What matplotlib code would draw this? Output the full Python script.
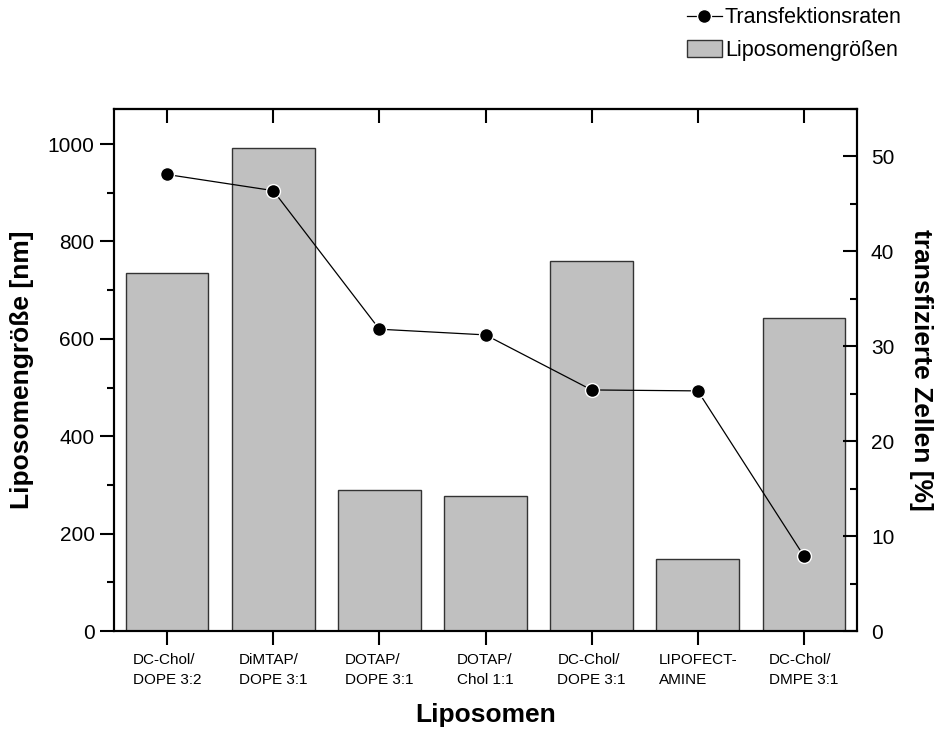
import numpy as np
import matplotlib
matplotlib.use("Agg")
from matplotlib import pyplot as plt
from matplotlib.ticker import MultipleLocator

plt.rcParams['font.family'] = ['Liberation Sans', 'DejaVu Sans']

kategorien = ["DC-Chol/\nDOPE 3:2", "DiMTAP/\nDOPE 3:1", "DOTAP/\nDOPE 3:1",
              "DOTAP/\nChol 1:1", "DC-Chol/\nDOPE 3:1", "LIPOFECT-\nAMINE",
              "DC-Chol/\nDMPE 3:1"]
groessen = [735, 992, 290, 277, 760, 147, 643]
transfektion = [48.1, 46.4, 31.8, 31.2, 25.4, 25.3, 7.9]

x = np.arange(len(kategorien))

fig = plt.figure(figsize=(9.4, 7.37), dpi=100)
ax1 = fig.add_axes([0.1213, 0.1438, 0.7904, 0.7083])
ax2 = ax1.twinx()

bars = ax1.bar(x, groessen, width=0.78, color='#c0c0c0', edgecolor='#333333',
               linewidth=1.0, label='Liposomengrößen')
line, = ax2.plot(x, transfektion, color='black', linewidth=0.9, marker='o',
                 markersize=10, markeredgecolor='white', markeredgewidth=1.0,
                 markerfacecolor='black', label='Transfektionsraten')

ax1.set_xlim(-0.5, 6.5)
ax1.set_ylim(0, 1072)
ax2.set_ylim(0, 55)

ax1.set_xticks(x)
ax1.set_xticklabels(kategorien, fontsize=11, multialignment='left', linespacing=1.5)
ax1.yaxis.set_major_locator(MultipleLocator(200))
ax1.yaxis.set_minor_locator(MultipleLocator(100))
ax2.yaxis.set_major_locator(MultipleLocator(10))
ax2.yaxis.set_minor_locator(MultipleLocator(5))

ax1.tick_params(axis='x', direction='out', length=10, width=1.5, pad=6)
ax1.tick_params(axis='y', which='major', direction='out', length=10, width=1.5,
                labelsize=15, pad=4)
ax1.tick_params(axis='y', which='minor', direction='out', length=5, width=1.5)
ax2.tick_params(axis='y', which='major', direction='in', length=10, width=1.5,
                labelsize=15, pad=10)
ax2.tick_params(axis='y', which='minor', direction='in', length=5, width=1.5)

top = ax1.secondary_xaxis('top')
top.set_xticks(x)
top.set_xticklabels([])
top.tick_params(direction='in', length=10, width=1.5)

for a in (ax1, ax2, top):
    for s in a.spines.values():
        s.set_linewidth(1.5)

ax1.set_ylabel('Liposomengröße [nm]', fontsize=19, fontweight='bold', labelpad=10)
ax2.set_ylabel('transfizierte Zellen [%]', fontsize=19, fontweight='bold',
               rotation=270, labelpad=28)
ax1.set_xlabel('Liposomen', fontsize=19, fontweight='bold', labelpad=12)

fig.legend([line, bars], ['Transfektionsraten', 'Liposomengrößen'],
           loc='upper left', bbox_to_anchor=(0.731, 0.99), frameon=False,
           fontsize=15.5, handlelength=1.6, handleheight=0.8, handletextpad=0.15,
           labelspacing=0.55, borderpad=0, borderaxespad=0)

fig.savefig('out.png', dpi=100)
